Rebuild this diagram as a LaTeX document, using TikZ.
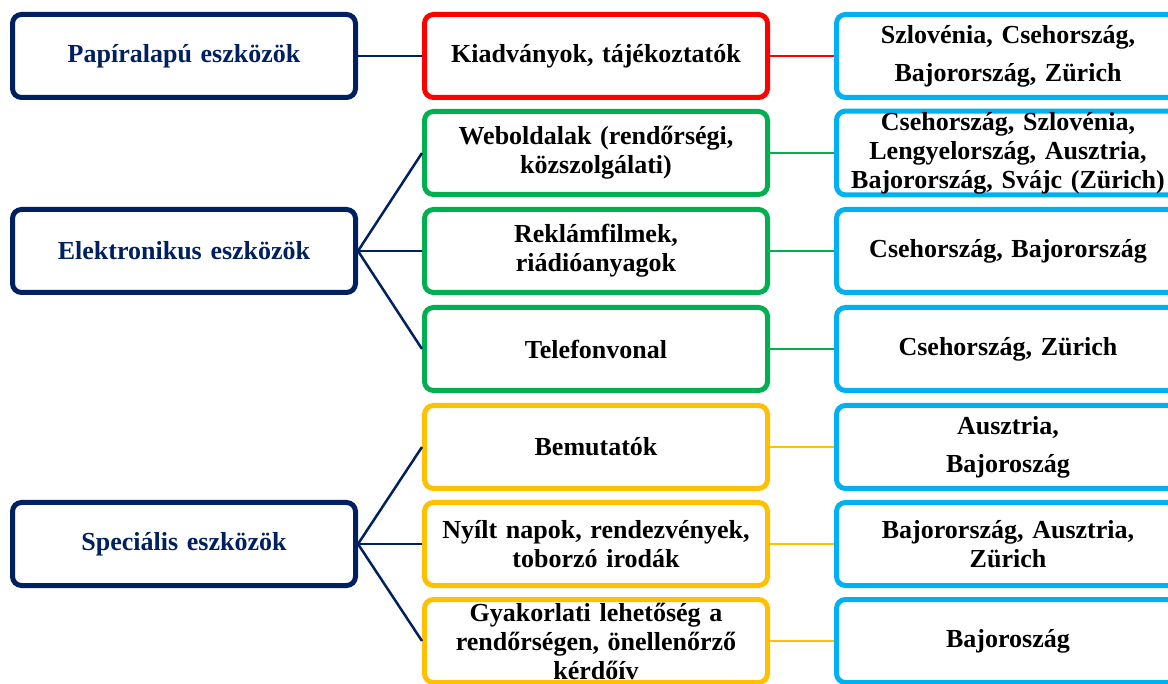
\documentclass[tikz,border=0pt]{standalone}
\usepackage{fontspec}
\setmainfont{Liberation Serif}
\usepackage{xcolor}
\usetikzlibrary{positioning}

\definecolor{navy}{HTML}{002060}
\definecolor{kred}{HTML}{FF0000}
\definecolor{kgreen}{HTML}{00B050}
\definecolor{kgold}{HTML}{FFC000}
\definecolor{kblue}{HTML}{00B0F0}

\begin{document}
\begin{tikzpicture}[x=1pt, y=-1pt,
  every node/.style={font=\fontsize{26}{29}\selectfont\bfseries},
  bx/.style={rounded corners=9pt, draw, line width=5pt, fill=white, text width=335pt, align=center,
    inner xsep=4pt, inner ysep=1pt, minimum height=83pt},
  lb/.style={bx, draw=navy, text=navy},
  cb/.style={bx, draw=kblue},
  ln/.style={line width=2.5pt}]
\useasboundingbox (0,0) rectangle (1168,684);
\clip (0,0) rectangle (1168,684);
% tool groups
\node[lb] (pa) at (184,56)  {Papíralapú eszközök};
\node[lb] (el) at (184,251) {Elektronikus eszközök};
\node[lb] (sp) at (184,544) {Speciális eszközök};
% tools
\node[bx, draw=kred]   (ki) at (596,56)  {Kiadványok, tájékoztatók};
\node[bx, draw=kgreen] (wb) at (596,153) {Weboldalak (rendőrségi,\\ közszolgálati)};
\node[bx, draw=kgreen] (rf) at (596,251) {Reklámfilmek,\\ riádióanyagok};
\node[bx, draw=kgreen] (tv) at (596,349) {Telefonvonal};
\node[bx, draw=kgold]  (bm) at (596,447) {Bemutatók};
\node[bx, draw=kgold]  (ny) at (596,544) {Nyílt napok, rendezvények,\\ toborzó irodák};
\node[bx, draw=kgold]  (gy) at (596,641) {Gyakorlati lehetőség a\\ rendőrségen, önellenőrző\\ kérdőív};
% countries
\node[cb] (cki) at (1008,56)  {Szlovénia, Csehország,\\[9pt] Bajorország, Zürich};
\node[cb] (cwb) at (1008,153) {Csehország, Szlovénia,\\ Lengyelország, Ausztria,\\ Bajorország, Svájc (Zürich)};
\node[cb] (crf) at (1008,251) {Csehország, Bajorország};
\node[cb] (ctv) at (1008,349) {Csehország, Zürich};
\node[cb] (cbm) at (1008,447) {Ausztria,\\[9pt] Bajoroszág};
\node[cb] (cny) at (1008,544) {Bajorország, Ausztria,\\ Zürich};
\node[cb] (cgy) at (1008,641) {Bajoroszág};
% links
\draw[ln, navy] (pa.east) -- (ki.west);
\draw[ln, navy] (el.east) -- (wb.west);
\draw[ln, navy] (el.east) -- (rf.west);
\draw[ln, navy] (el.east) -- (tv.west);
\draw[ln, navy] (sp.east) -- (bm.west);
\draw[ln, navy] (sp.east) -- (ny.west);
\draw[ln, navy] (sp.east) -- (gy.west);
\draw[ln, kred]   (ki) -- (cki);
\draw[ln, kgreen] (wb) -- (cwb);
\draw[ln, kgreen] (rf) -- (crf);
\draw[ln, kgreen] (tv) -- (ctv);
\draw[ln, kgold]  (bm) -- (cbm);
\draw[ln, kgold]  (ny) -- (cny);
\draw[ln, kgold]  (gy) -- (cgy);
\end{tikzpicture}
\end{document}
